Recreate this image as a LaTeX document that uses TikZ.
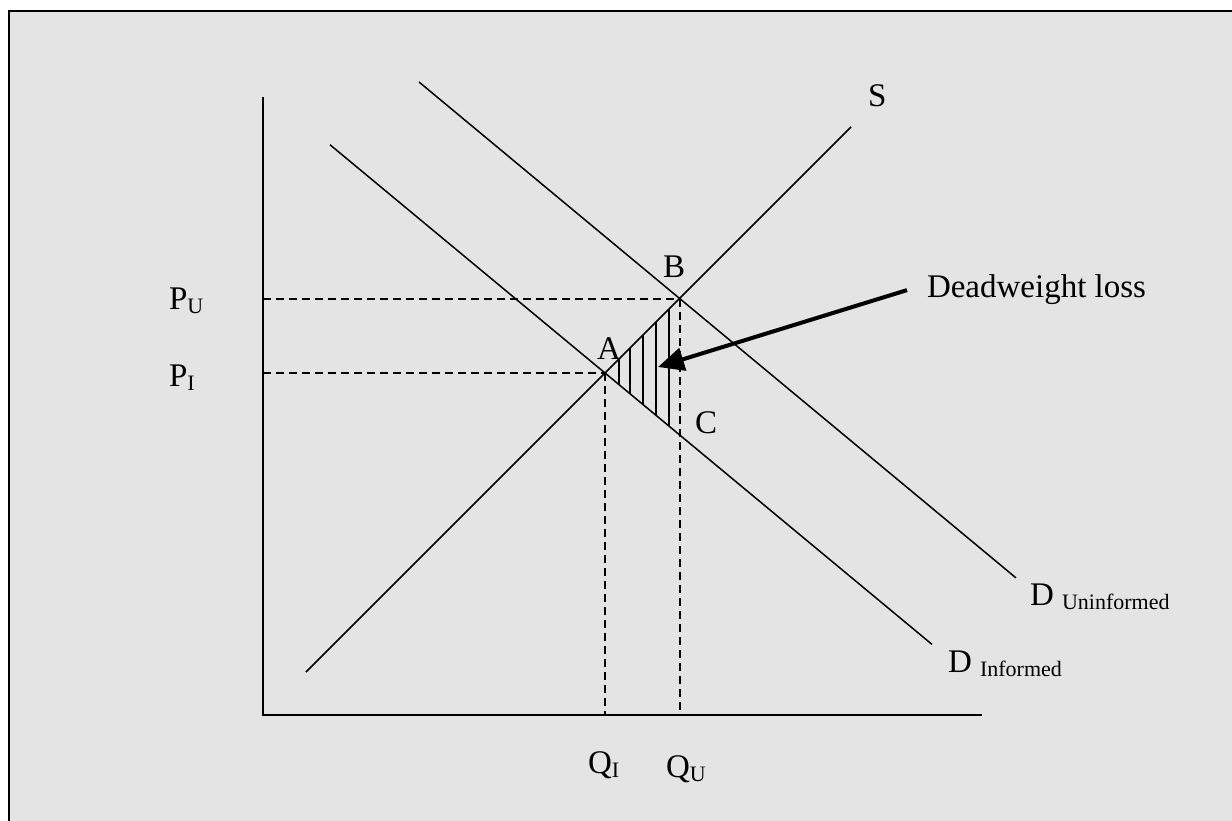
\documentclass[tikz,border=0pt]{standalone}
\usepackage{fontspec}
\setmainfont{Liberation Serif}
\usetikzlibrary{arrows.meta}
\definecolor{bgc}{HTML}{E4E4E4}
\newcommand{\sbs}[1]{\raisebox{-4pt}{\fontsize{22}{22}\selectfont #1}}
\begin{document}
\begin{tikzpicture}[x=1pt,y=-1pt, font=\fontsize{33}{39}\selectfont,
  curve/.style={line width=1.5pt},
  axis/.style={line width=2pt},
  guide/.style={line width=1.5pt, dash pattern=on 8pt off 5pt},
  hatchline/.style={line width=1.5pt},
  lbl/.style={anchor=base west, inner sep=0pt, outer sep=0pt},
  bigarrow/.style={line width=4pt, -{Triangle[length=26pt,width=23pt]}}]
\useasboundingbox (0,0) rectangle (1232,821);
\clip (0,0) rectangle (1232,821);
\fill[white] (0,0) rectangle (1232,821);
\filldraw[fill=bgc, draw=black, line width=2.5pt] (9,11) rectangle (1260,850);
% key points
\coordinate (O) at (263,715);
\coordinate (Ytop) at (263,97);
\coordinate (Xend) at (982,715);
\coordinate (A) at (605,373);
\coordinate (B) at (680,299);
\coordinate (Ay) at (263,373);
\coordinate (By) at (263,299);
\coordinate (Ax) at (605,715);
\coordinate (Bx) at (680,715);
\coordinate (S0) at (306,672);
\coordinate (S1) at (851,127);
\coordinate (DI0) at (330,144.75);
\coordinate (DI1) at (932,644.4);
\coordinate (DU0) at (419,82);
\coordinate (DU1) at (1016,577.9);
\coordinate (tip) at (658,367);
% hatching
\foreach \hx in {619,630,643,656,669}
  \draw[hatchline] (\hx,{978-\hx}) -- (\hx,{373+0.83*(\hx-605)});
% guides
\draw[guide] (By) -- (B);
\draw[guide] (Ay) -- (A);
\draw[guide] (A) -- (Ax);
\draw[guide] (B) -- (Bx);
% axes
\draw[axis] (Ytop) -- (O) -- (Xend);
% curves
\draw[curve] (S0) -- (S1);
\draw[curve] (DI0) -- (DI1);
\draw[curve] (DU0) -- (DU1);
% labels
\node[lbl] (lS) at (868,107) {S};
\node[lbl] (lB) at (663,277) {B};
\node[lbl] (lA) at (597,359) {A};
\node[lbl] (lC) at (695,433) {C};
\node[lbl] (lPU) at (169,309) {P\sbs{U}};
\node[lbl] (lPI) at (169,386) {P\sbs{I}};
\node[lbl] (lQI) at (588,773) {Q\sbs{I}};
\node[lbl] (lQU) at (666,777) {Q\sbs{U}};
\node[lbl] (dwl) at (927,298) {Deadweight loss};
\node[lbl] (lDI) at (948,672) {D \sbs{Informed}};
\node[lbl] (lDU) at (1030,605) {D \sbs{Uninformed}};
\draw[bigarrow] ([xshift=-20pt]dwl.west) -- (tip);
\end{tikzpicture}
\end{document}
